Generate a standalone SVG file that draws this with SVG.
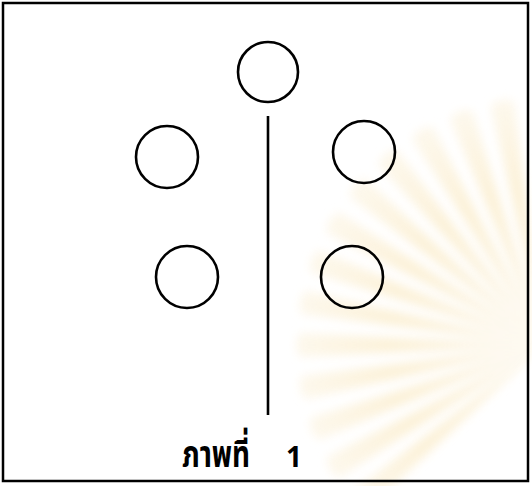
<svg xmlns="http://www.w3.org/2000/svg" width="532" height="486" viewBox="0 0 532 486">
<defs>
<radialGradient id="wm" cx="545" cy="345" r="260" gradientUnits="userSpaceOnUse">
<stop offset="0" stop-color="#fcf3de"/>
<stop offset="0.6" stop-color="#fbedcc"/>
<stop offset="1" stop-color="#fdf7ea"/>
</radialGradient>
<filter id="soft" x="-20%" y="-20%" width="140%" height="140%"><feGaussianBlur stdDeviation="5"/></filter>
<path id="ray" d="M545,345 L300,333 Q292,345 300,357 Z"/>
<style>
.c{fill:none;stroke:#000;stroke-width:2.6}
.t{font-family:"Noto Sans Thai","Noto Sans","DejaVu Sans",sans-serif;font-weight:bold;fill:#000}
</style>
</defs>
<rect width="532" height="486" fill="#fff"/>
<g id="watermark" fill="url(#wm)" filter="url(#soft)" opacity="0.75">
<use href="#ray" transform="rotate(-40 545 345)"/>
<use href="#ray" transform="rotate(-30 545 345)"/>
<use href="#ray" transform="rotate(-20 545 345)"/>
<use href="#ray" transform="rotate(-10 545 345)"/>
<use href="#ray"/>
<use href="#ray" transform="rotate(10 545 345)"/>
<use href="#ray" transform="rotate(20 545 345)"/>
<use href="#ray" transform="rotate(30 545 345)"/>
<use href="#ray" transform="rotate(40 545 345)"/>
<use href="#ray" transform="rotate(50 545 345) scale(1)"/>
<use href="#ray" transform="rotate(60 545 345)"/>
<use href="#ray" transform="rotate(70 545 345)"/>
<use href="#ray" transform="rotate(80 545 345)"/>
</g>
<rect x="3" y="3" width="525" height="478" fill="none" stroke="#000" stroke-width="2.5"/>
<g id="connectors">
<line x1="268" y1="116" x2="268" y2="415" stroke="#000" stroke-width="2.6"/>
</g>
<g id="n1"><circle class="c" cx="268" cy="72" r="30"/></g>
<g id="n2"><circle class="c" cx="167" cy="157" r="31"/></g>
<g id="n3"><circle class="c" cx="364" cy="152" r="31"/></g>
<g id="n4"><circle class="c" cx="187" cy="277" r="31"/></g>
<g id="n5"><circle class="c" cx="352" cy="277" r="31"/></g>
<g id="caption">
<text class="t" x="182" y="467" font-size="38" textLength="68" lengthAdjust="spacingAndGlyphs">ภาพที่</text>
<text class="t" x="286" y="467" font-size="28">1</text>
</g>
</svg>
